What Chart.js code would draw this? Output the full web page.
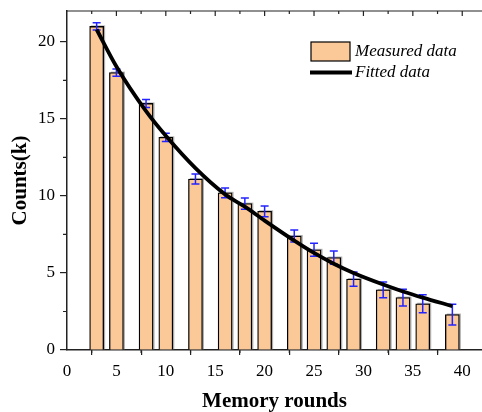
<!DOCTYPE html>
<html lang="en">
<head>
<meta charset="UTF-8">
<title>Counts vs memory rounds</title>
<script src="https://cdn.jsdelivr.net/npm/chart.js"></script>
<style>
  body { margin: 0; background: #fff; }
  #wrap { width: 482px; height: 412px; }
</style>
</head>
<body>
<div id="wrap"><canvas id="chart"></canvas></div>
<script>
// data
const rounds = [3, 5, 8, 10, 13, 16, 18, 20, 23, 25, 27, 29, 32, 34, 36, 39];
const counts = [21.0, 18.0, 16.0, 13.8, 11.1, 10.2, 9.5, 9.0, 7.4, 6.5, 6.0, 4.6, 3.9, 3.4, 3.0, 2.3];
const errors = [0.23, 0.23, 0.26, 0.27, 0.32, 0.32, 0.36, 0.35, 0.39, 0.42, 0.43, 0.47, 0.51, 0.55, 0.58, 0.67];
const fitted = [20.8, 18.4, 15.5, 13.9, 11.8, 10.1, 9.3, 8.4, 7.1, 6.3, 5.6, 5.0, 4.25, 3.8, 3.4, 2.85];
const xTickValues = [0, 5, 10, 15, 20, 25, 30, 35, 40];
const yTickValues = [0, 5, 10, 15, 20];

const serif = "'Liberation Serif', 'Times New Roman', serif";
const axisColor = '#222';

// shadow + error bars on the bars, frame, minor ticks and legend
const extras = {
  id: 'extras',
  beforeDatasetDraw(chart, args) {
    if (args.meta.type !== 'bar') return;
    const ctx = chart.ctx;
    ctx.save();
    ctx.fillStyle = 'rgba(120,120,120,0.6)';
    args.meta.data.forEach(b => {
      ctx.fillRect(b.x - b.width / 2 + 1.5, b.y - 1, b.width, b.base - b.y + 1);
    });
    ctx.restore();
  },
  afterDatasetDraw(chart, args) {
    if (args.meta.type !== 'bar') return;
    const { ctx, scales: { x, y } } = chart;
    ctx.save();
    ctx.strokeStyle = '#2323ff';
    ctx.lineWidth = 1.5;
    rounds.forEach((r, i) => {
      const px = x.getPixelForValue(r);
      const top = y.getPixelForValue(counts[i] + errors[i]);
      const bot = y.getPixelForValue(counts[i] - errors[i]);
      ctx.beginPath();
      ctx.moveTo(px, top); ctx.lineTo(px, bot);
      ctx.moveTo(px - 4, top); ctx.lineTo(px + 4, top);
      ctx.moveTo(px - 4, bot); ctx.lineTo(px + 4, bot);
      ctx.stroke();
    });
    ctx.restore();
  },
  afterDraw(chart) {
    const { ctx, chartArea: a, scales: { x, y } } = chart;
    ctx.save();
    ctx.strokeStyle = axisColor;
    ctx.lineWidth = 1.2;

    // top frame line
    ctx.beginPath();
    ctx.moveTo(a.left, a.top);
    ctx.lineTo(a.right, a.top);
    ctx.stroke();

    // x ticks: minor outward at bottom, all inward at top
    ctx.beginPath();
    for (let v = 2.5; v <= x.max; v += 2.5) {
      const px = x.getPixelForValue(v);
      const major = v % 5 === 0;
      if (!major) { ctx.moveTo(px, a.bottom); ctx.lineTo(px, a.bottom + 3); }
      ctx.moveTo(px, a.top); ctx.lineTo(px, a.top + (major ? 5 : 3));
    }
    // y minor ticks outward on the left
    for (let v = 2.5; v <= y.max; v += 5) {
      const py = y.getPixelForValue(v);
      ctx.moveTo(a.left, py); ctx.lineTo(a.left - 4, py);
    }
    ctx.stroke();

    // legend
    const ds = chart.data.datasets;
    const bars = ds.find(d => d.type === 'bar');
    const line = ds.find(d => d.type === 'line');
    const lx = a.left + 244, ly = a.top + 31;
    ctx.fillStyle = bars.backgroundColor;
    ctx.fillRect(lx, ly, 39, 19);
    ctx.strokeStyle = '#000';
    ctx.lineWidth = 1.2;
    ctx.strokeRect(lx, ly, 39, 19);
    ctx.strokeStyle = line.borderColor;
    ctx.lineWidth = line.borderWidth;
    ctx.beginPath();
    ctx.moveTo(lx - 1, ly + 30.5);
    ctx.lineTo(lx + 41, ly + 30.5);
    ctx.stroke();
    ctx.fillStyle = '#000';
    ctx.font = 'italic 17px ' + serif;
    ctx.textBaseline = 'middle';
    ctx.fillText(bars.label, lx + 44, ly + 10);
    ctx.fillText(line.label, lx + 44, ly + 31);
    ctx.restore();
  }
};

new Chart(document.getElementById('chart'), {
  type: 'bar',
  data: {
    datasets: [
      {
        type: 'line',
        label: 'Fitted data',
        data: rounds.map((r, i) => ({ x: r, y: fitted[i] })),
        borderColor: '#000',
        borderWidth: 3.8,
        pointRadius: 0,
        cubicInterpolationMode: 'monotone',
        order: 0
      },
      {
        type: 'bar',
        label: 'Measured data',
        data: rounds.map((r, i) => ({ x: r, y: counts[i] })),
        backgroundColor: 'rgb(251,200,152)',
        borderColor: '#000',
        borderWidth: 1.3,
        barThickness: 14,
        order: 1
      }
    ]
  },
  options: {
    responsive: true,
    maintainAspectRatio: false,
    animation: false,
    layout: { padding: { top: 11, right: 0, bottom: 0, left: 0 } },
    plugins: {
      legend: { display: false },
      tooltip: { enabled: false }
    },
    scales: {
      x: {
        type: 'linear',
        min: 0,
        max: 42,
        offset: false,
        afterBuildTicks: s => { s.ticks = xTickValues.map(v => ({ value: v })); },
        afterFit: s => { s.height = 62; s.paddingLeft = 0; s.paddingRight = 0; },
        grid: { drawOnChartArea: false, tickLength: 5, color: axisColor, lineWidth: 1.2 },
        border: { color: axisColor, width: 1.5 },
        ticks: { color: '#000', font: { family: serif, size: 17 }, padding: 6, maxRotation: 0 },
        title: {
          display: true,
          text: 'Memory rounds',
          color: '#000',
          font: { family: serif, size: 21, weight: 'bold', lineHeight: 1 },
          padding: 0
        }
      },
      y: {
        min: 0,
        max: 22,
        afterBuildTicks: s => { s.ticks = yTickValues.map(v => ({ value: v })); },
        afterFit: s => { s.width = 67; s.paddingTop = 0; s.paddingBottom = 0; },
        grid: { drawOnChartArea: false, tickLength: 7, color: axisColor, lineWidth: 1.2 },
        border: { color: axisColor, width: 1.5 },
        ticks: { color: '#000', font: { family: serif, size: 17 }, padding: 5 },
        title: {
          display: true,
          text: 'Counts(k)',
          color: '#000',
          font: { family: serif, size: 21, weight: 'bold', lineHeight: 1 },
          padding: { top: 10, bottom: 0 }
        }
      }
    }
  },
  plugins: [extras]
});
</script>
</body>
</html>
